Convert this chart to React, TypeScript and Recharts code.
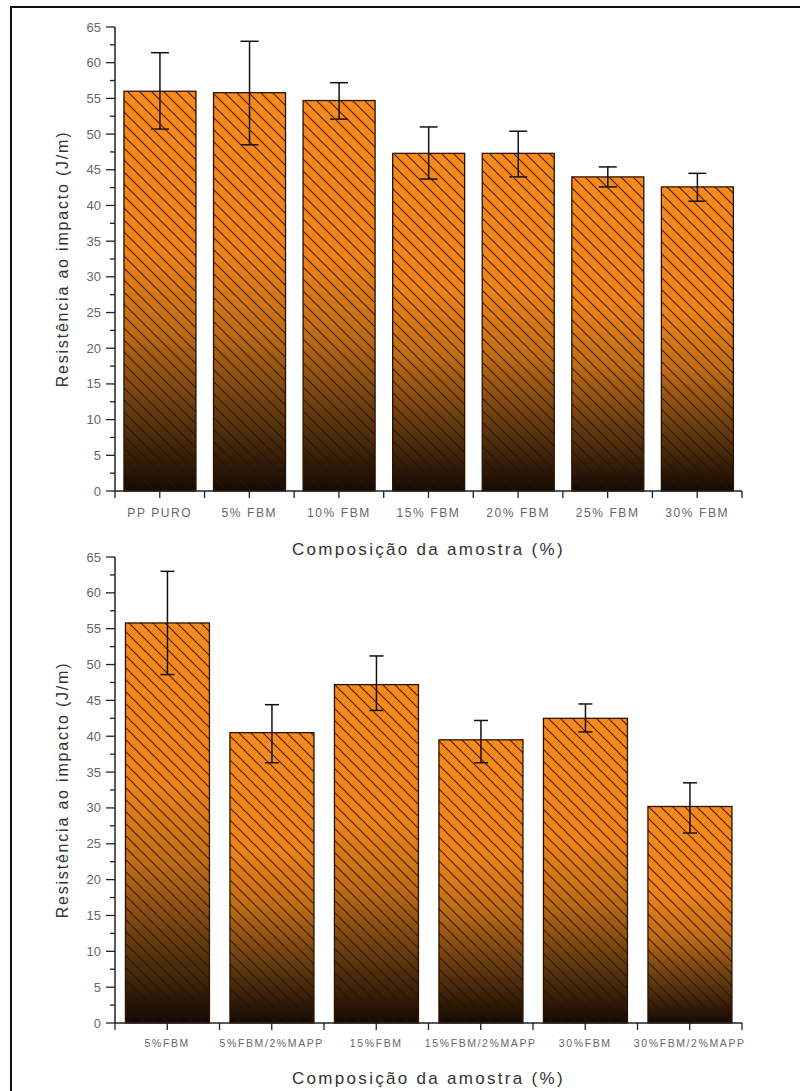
import React from "react";
import { BarChart, Bar, XAxis, YAxis, ErrorBar } from "recharts";

// top panel: fibre content series
const topCategories = ["PP PURO", "5% FBM", "10% FBM", "15% FBM", "20% FBM", "25% FBM", "30% FBM"];
const topValues = [56.0, 55.8, 54.7, 47.3, 47.3, 44.0, 42.6];
const topErrLow = [50.7, 48.5, 52.1, 43.7, 44.0, 42.6, 40.6];
const topErrHigh = [61.4, 63.0, 57.2, 51.0, 50.4, 45.4, 44.5];

// bottom panel: with / without MAPP
const bottomCategories = ["5%FBM", "5%FBM/2%MAPP", "15%FBM", "15%FBM/2%MAPP", "30%FBM", "30%FBM/2%MAPP"];
const bottomValues = [55.8, 40.5, 47.2, 39.5, 42.5, 30.2];
const bottomErrLow = [48.6, 36.3, 43.6, 36.3, 40.6, 26.5];
const bottomErrHigh = [63.0, 44.4, 51.2, 42.2, 44.5, 33.5];

const yTicks = [0, 2.5, 5, 7.5, 10, 12.5, 15, 17.5, 20, 22.5, 25, 27.5, 30, 32.5, 35, 37.5, 40, 42.5, 45, 47.5, 50, 52.5, 55, 57.5, 60, 62.5, 65];

const Y_TITLE = "Resistência ao impacto (J/m)";
const X_TITLE = "Composição da amostra (%)";

const PLOT_LEFT = 115;
const PLOT_RIGHT = 742;
const PLOT_TOP = 27;
const AXIS_COLOR = "#222";
const FONT = "'Liberation Sans', Arial, sans-serif";

function buildData(cats: string[], vals: number[], lo: number[], hi: number[]) {
  return cats.map((name, i) => ({
    name,
    value: vals[i],
    err: [vals[i] - lo[i], hi[i] - vals[i]],
  }));
}

const YTick = (props: any) => {
  const { x, y, payload } = props;
  const major = payload.value % 5 === 0;
  return (
    <g>
      <line x1={x - (major ? 9 : 5)} x2={x} y1={y} y2={y} stroke={AXIS_COLOR} strokeWidth={1.3} />
      {major && (
        <text x={x - 14} y={y} dy={4.5} textAnchor="end" fill="#666" fontSize={13} fontFamily={FONT}>
          {payload.value}
        </text>
      )}
    </g>
  );
};

const makeXTick = (band: number, count: number, labelDy: number, fontSize: number) => (props: any) => {
  const { x, y, payload, index } = props;
  const left = x - band / 2;
  return (
    <g>
      <line x1={x} x2={x} y1={y} y2={y + 7} stroke={AXIS_COLOR} strokeWidth={1.3} />
      <line x1={left} x2={left} y1={y} y2={y + 7} stroke={AXIS_COLOR} strokeWidth={1.3} />
      {index === count - 1 && (
        <line x1={x + band / 2} x2={x + band / 2} y1={y} y2={y + 7} stroke={AXIS_COLOR} strokeWidth={1.3} />
      )}
      <text
        x={x}
        y={y + labelDy}
        textAnchor="middle"
        fill="#666"
        fontSize={fontSize}
        letterSpacing={1.6}
        fontFamily={FONT}
      >
        {payload.value}
      </text>
    </g>
  );
};

const YTitle = (props: any) => {
  const vb = props.viewBox;
  const cy = vb.y + vb.height / 2;
  return (
    <text
      x={62}
      y={cy}
      transform={`rotate(-90, 62, ${cy})`}
      textAnchor="middle"
      dominantBaseline="central"
      fill="#333"
      fontSize={16}
      letterSpacing={1.8}
      fontFamily={FONT}
    >
      {Y_TITLE}
    </text>
  );
};

const makeXTitle = (dy: number) => (props: any) => {
  const vb = props.viewBox;
  return (
    <text
      x={vb.x + vb.width / 2}
      y={vb.y + dy}
      textAnchor="middle"
      fill="#333"
      fontSize={17}
      letterSpacing={2.3}
      fontFamily={FONT}
    >
      {X_TITLE}
    </text>
  );
};

const makeBarShape = (id: string) => (props: any) => {
  const { x, y, width, height } = props;
  return (
    <g>
      <rect x={x} y={y} width={width} height={height} fill={`url(#grad-${id})`} />
      <rect x={x} y={y} width={width} height={height} fill={`url(#hatch-${id})`} />
      <rect x={x} y={y} width={width} height={height} fill="none" stroke="#2a1200" strokeWidth={1.3} />
    </g>
  );
};

interface PanelProps {
  id: string;
  top: number;
  height: number;
  plotHeight: number;
  categories: string[];
  values: number[];
  errLow: number[];
  errHigh: number[];
  capHalf: number;
  labelDy: number;
  labelSize: number;
  titleDy: number;
}

function Panel({ id, top, height, plotHeight, categories, values, errLow, errHigh, capHalf, labelDy, labelSize, titleDy }: PanelProps) {
  const data = buildData(categories, values, errLow, errHigh);
  const band = (PLOT_RIGHT - PLOT_LEFT) / categories.length;
  const XTick = makeXTick(band, categories.length, labelDy, labelSize);
  const XTitle = makeXTitle(titleDy);
  return (
    <div style={{ position: "absolute", left: 0, top }}>
      <BarChart
        width={800}
        height={height}
        data={data}
        margin={{ top: PLOT_TOP, right: 800 - PLOT_RIGHT, left: 0, bottom: 0 }}
        barCategoryGap="10%"
      >
        <defs>
          <linearGradient id={`grad-${id}`} x1="0" y1="0" x2="0" y2="1">
            <stop offset="0" stopColor="#f88a1c" />
            <stop offset="0.4" stopColor="#ef8318" />
            <stop offset="0.6" stopColor="#bf6c16" />
            <stop offset="0.8" stopColor="#633a10" />
            <stop offset="1" stopColor="#140a04" />
          </linearGradient>
          <pattern id={`hatch-${id}`} patternUnits="userSpaceOnUse" width={12} height={12}>
            <line x1={-1} y1={-1} x2={13} y2={13} stroke="#2a0f00" strokeWidth={1.1} opacity={0.9} />
            <line x1={-7} y1={5} x2={1} y2={13} stroke="#2a0f00" strokeWidth={1.1} opacity={0.9} />
            <line x1={11} y1={-1} x2={19} y2={7} stroke="#2a0f00" strokeWidth={1.1} opacity={0.9} />
          </pattern>
        </defs>
        <XAxis
          dataKey="name"
          height={height - PLOT_TOP - plotHeight}
          axisLine={{ stroke: AXIS_COLOR, strokeWidth: 1.5 }}
          tickLine={false}
          tickSize={0}
          tickMargin={0}
          interval={0}
          tick={<XTick />}
          label={<XTitle />}
        />
        <YAxis
          width={PLOT_LEFT}
          domain={[0, 65]}
          ticks={yTicks}
          interval={0}
          axisLine={{ stroke: AXIS_COLOR, strokeWidth: 1.5 }}
          tickLine={false}
          tickSize={0}
          tickMargin={0}
          tick={<YTick />}
          label={<YTitle />}
        />
        <Bar dataKey="value" isAnimationActive={false} shape={makeBarShape(id)}>
          <ErrorBar dataKey="err" width={capHalf} stroke="#111" strokeWidth={1.5} direction="y" />
        </Bar>
      </BarChart>
    </div>
  );
}

export default function App() {
  return (
    <div
      style={{
        position: "absolute",
        left: 0,
        top: 0,
        width: 800,
        height: 1091,
        overflow: "hidden",
        background: "#fff",
      }}
    >
      <div
        style={{
          position: "absolute",
          left: 10,
          top: 6,
          width: 820,
          height: 1120,
          border: "2.5px solid #111",
        }}
      />
      <Panel
        id="top"
        top={0}
        height={560}
        plotHeight={464}
        categories={topCategories}
        values={topValues}
        errLow={topErrLow}
        errHigh={topErrHigh}
        capHalf={9}
        labelDy={26}
        labelSize={12}
        titleDy={64}
      />
      <Panel
        id="bottom"
        top={530}
        height={561}
        plotHeight={466}
        categories={bottomCategories}
        values={bottomValues}
        errLow={bottomErrLow}
        errHigh={bottomErrHigh}
        capHalf={7}
        labelDy={24}
        labelSize={10.5}
        titleDy={61}
      />
    </div>
  );
}
